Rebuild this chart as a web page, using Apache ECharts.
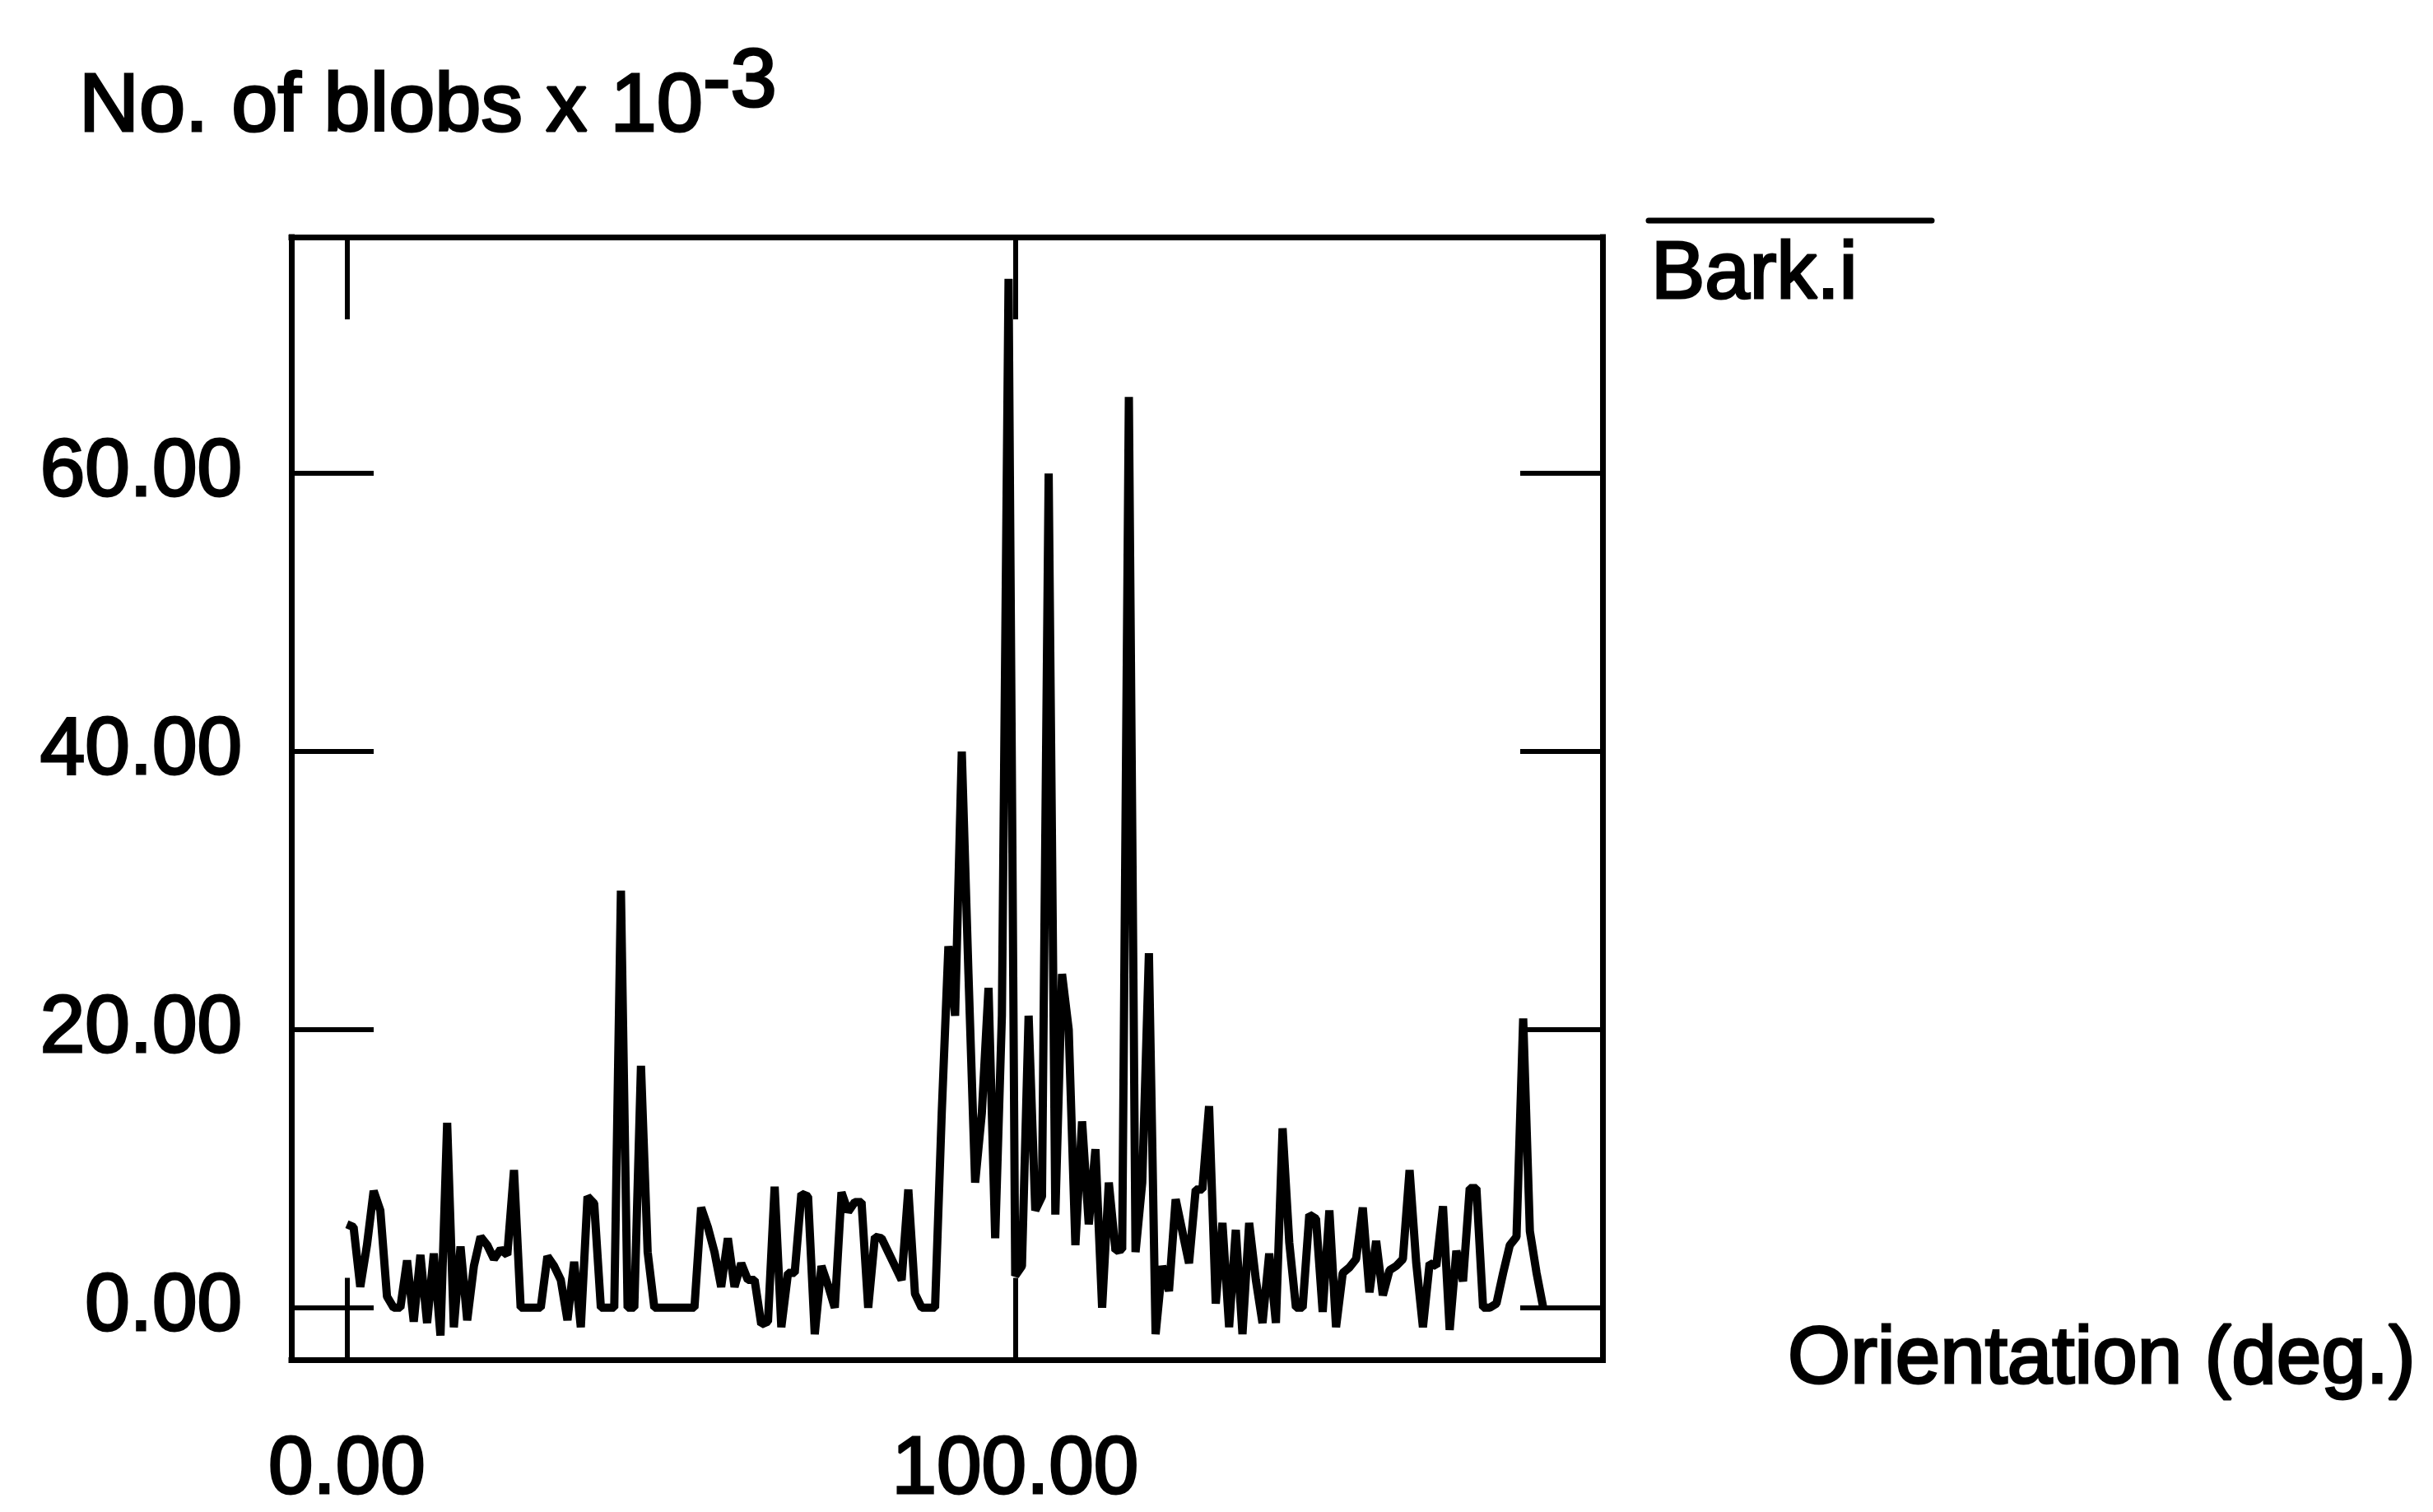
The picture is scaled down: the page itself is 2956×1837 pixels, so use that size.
<!DOCTYPE html>
<html>
<head>
<meta charset="utf-8">
<title>Bark.i orientation histogram</title>
<script src="https://cdn.jsdelivr.net/npm/echarts@6/dist/echarts.min.js"></script>
<style>
  html, body { margin: 0; padding: 0; background: #ffffff; }
  #chart { width: 2956px; height: 1837px; }
</style>
</head>
<body>
<div id="chart"></div>
<script>
// Blob counts (x 10^-3) per 1-degree orientation bin, starting at 0 degrees.
const blobCounts = [
  6.0, 5.8, 1.5, 4.5, 8.4, 7.0, 0.8, 0.0, 0.0, 3.4,      // 0-9
  -1.0, 3.8, -1.1, 3.9, -2.0, 13.3, -1.4, 4.4, -0.9, 3.0, // 10-19
  5.1, 4.5, 3.5, 4.2, 3.8, 9.9, 0.0, 0.0, 0.0, 0.0,      // 20-29
  3.7, 3.0, 2.0, -0.9, 3.3, -1.4, 8.0, 7.5, 0.0, 0.0,    // 30-39
  0.0, 30.0, 0.0, 0.0, 17.4, 4.0, 0.0, 0.0, 0.0, 0.0,    // 40-49
  0.0, 0.0, 0.0, 7.2, 5.8, 4.0, 1.5, 5.0, 1.5, 3.2,      // 50-59
  2.0, 2.0, -1.2, -1.0, 8.7, -1.4, 2.5, 2.5, 8.2, 8.0,   // 60-69
  -1.9, 3.0, 1.6, 0.0, 8.3, 6.9, 7.6, 7.6, 0.0, 5.1,     // 70-79
  5.0, 4.0, 3.0, 2.0, 8.5, 1.0, 0.0, 0.0, 0.0, 14.0,     // 80-89
  26.0, 21.0, 40.0, 24.0, 9.0, 14.0, 23.0, 5.0, 21.0, 74.0, // 90-99
  2.3, 3.0, 21.0, 7.0, 8.0, 60.0, 6.7, 24.0, 20.0, 4.5,  // 100-109
  13.4, 6.0, 11.4, 0.0, 9.0, 4.1, 4.2, 65.5, 4.0, 9.0,   // 110-119
  25.5, -1.9, 3.0, 1.2, 7.8, 5.5, 3.2, 8.5, 8.5, 14.5,   // 120-129
  0.3, 6.1, -1.4, 5.6, -1.9, 6.1, 2.0, -1.1, 3.9, -1.1,  // 130-139
  12.9, 4.7, 0.0, 0.0, 6.7, 6.4, -0.3, 7.0, -1.4, 2.5,   // 140-149
  2.9, 3.5, 7.2, 1.1, 4.8, 0.9, 2.7, 3.0, 3.5, 9.9,      // 150-159
  3.2, -1.4, 3.2, 3.0, 7.3, -1.6, 4.1, 1.9, 8.6, 8.6,    // 160-169
  0.0, 0.0, 0.3, 2.5, 4.5, 5.1, 20.8, 5.5, 2.5, 0.0      // 170-179
];
// Bin orientation in degrees (one bin per degree).
const orientationDeg = blobCounts.map((_, i) => i);

const seriesName = 'Bark.i';
const xTickValues = [0, 100];
const yTickValues = [0, 20, 40, 60];
const yTitleText = 'No. of blobs x 10';
const yTitleExponent = '-3';
const xTitleText = 'Orientation (deg.)';

// Axis extents
const X_MIN = -8.31, X_MAX = 187.87;
const Y_MIN = -3.77, Y_MAX = 77.0;

const FONT_FAMILY = '"Liberation Sans", Arial, Helvetica, sans-serif';
const INK = '#000000';
const FONT_SIZE = 98;
const TITLE_FONT_SIZE = 101;
const TEXT_HALO = 3;   // slight outline so the lettering has the heavier printed weight

const frameLine = { show: true, onZero: false, lineStyle: { color: INK, width: 7, cap: 'square' } };
function innerTicks(values) {
  return { show: true, inside: true, length: 100, customValues: values, lineStyle: { color: INK, width: 6 } };
}
const labelStyle = {
  fontFamily: FONT_FAMILY, fontSize: FONT_SIZE, fontWeight: 'normal', color: INK,
  textBorderColor: INK, textBorderWidth: TEXT_HALO
};

// Width of the title's base text, so the exponent can follow it.
const titleFont = TITLE_FONT_SIZE + 'px ' + FONT_FAMILY;
const measureCtx = document.createElement('canvas').getContext('2d');
measureCtx.font = titleFont;
const titleBaseWidth = measureCtx.measureText(yTitleText).width;

const TITLE_X = 96;
const TITLE_TOP = 81;
const EXPONENT_RAISE = 30;

const chart = echarts.init(document.getElementById('chart'), null, { renderer: 'canvas', width: 2956, height: 1837 });

chart.setOption({
  animation: false,
  backgroundColor: '#ffffff',
  legend: {
    data: [seriesName],
    left: 2001,
    top: 284,
    padding: 0,
    itemWidth: 0,
    itemHeight: 0,
    icon: 'rect',
    itemStyle: { opacity: 0 },
    lineStyle: { opacity: 0 },
    selectedMode: false,
    textStyle: labelStyle
  },
  graphic: [
    {
      type: 'text',
      x: TITLE_X,
      y: TITLE_TOP,
      silent: true,
      style: {
        text: yTitleText, fill: INK, stroke: INK, lineWidth: TEXT_HALO,
        font: titleFont, align: 'left', verticalAlign: 'top'
      }
    },
    {
      type: 'text',
      x: TITLE_X + titleBaseWidth,
      y: TITLE_TOP - EXPONENT_RAISE,
      silent: true,
      style: {
        text: yTitleExponent, fill: INK, stroke: INK, lineWidth: TEXT_HALO,
        font: titleFont, align: 'left', verticalAlign: 'top'
      }
    },
    {
      // overline drawn above the legend entry
      type: 'line',
      shape: { x1: 2003, y1: 268, x2: 2347, y2: 268 },
      style: { stroke: INK, lineWidth: 7, lineCap: 'round' },
      silent: true
    }
  ],
  grid: { left: 354, right: 1009, top: 288, bottom: 176, containLabel: false },
  xAxis: [
    {
      type: 'value', position: 'bottom', min: X_MIN, max: X_MAX,
      axisLine: frameLine,
      axisTick: innerTicks(xTickValues),
      axisLabel: Object.assign({ show: true, customValues: xTickValues, margin: 85,
        formatter: v => Number(v).toFixed(2) }, labelStyle),
      splitLine: { show: false },
      name: xTitleText,
      nameLocation: 'end',
      nameGap: 225,
      nameTextStyle: Object.assign({ padding: [56, 0, 0, 0] }, labelStyle)
    },
    {
      type: 'value', position: 'top', min: X_MIN, max: X_MAX,
      axisLine: frameLine,
      axisTick: innerTicks(xTickValues),
      axisLabel: { show: false },
      splitLine: { show: false }
    }
  ],
  yAxis: [
    {
      type: 'value', position: 'left', min: Y_MIN, max: Y_MAX,
      axisLine: frameLine,
      axisTick: innerTicks(yTickValues),
      axisLabel: Object.assign({ show: true, customValues: yTickValues, margin: 60,
        formatter: v => Number(v).toFixed(2) }, labelStyle),
      splitLine: { show: false }
    },
    {
      type: 'value', position: 'right', min: Y_MIN, max: Y_MAX,
      axisLine: frameLine,
      axisTick: innerTicks(yTickValues),
      axisLabel: { show: false },
      splitLine: { show: false }
    }
  ],
  series: [
    {
      name: seriesName,
      type: 'line',
      xAxisIndex: 0,
      yAxisIndex: 0,
      data: orientationDeg.map((deg, i) => [deg, blobCounts[i]]),
      showSymbol: false,
      symbol: 'none',
      clip: true,
      silent: true,
      lineStyle: { color: INK, width: 10 },
      itemStyle: { color: INK }
    }
  ]
});
</script>
</body>
</html>
